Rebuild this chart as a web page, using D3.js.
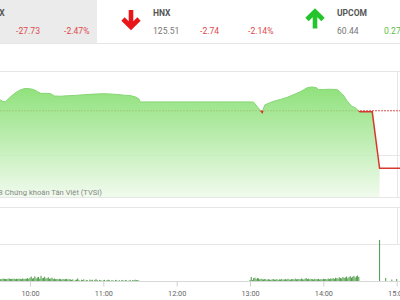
<!DOCTYPE html>
<html>
<head>
<meta charset="utf-8">
<script src="https://cdn.jsdelivr.net/npm/d3@7"></script>
<style>
body { margin: 0; background: #fff; }
svg { display: block; font-family: Roboto, "Noto Sans", sans-serif; }
</style>
</head>
<body>
<svg id="chart"></svg>
<script>
const width = 400;
const height = 300;

// header boxes
const indexNames = ["VNINDEX", "HNX", "UPCOM"];
const indexValues = ["1095.63", "125.51", "60.44"];
const indexChanges = ["-27.73", "-2.74", "0.27"];
const indexPercents = ["-2.47%", "-2.14%", "0.45%"];

// index line (time, points)
const refValue = 1120.9;
const priceTimes = ["09:30", "09:35", "09:38", "09:40", "09:44", "09:48", "09:52", "09:56", "10:00", "10:03",
	"10:06", "10:09", "10:13", "10:17", "10:20", "10:25", "10:30", "10:37", "10:44", "10:52",
	"11:00", "11:05", "11:12", "11:17", "11:22", "11:26", "11:29", "11:30", "13:00", "13:03",
	"13:06", "13:10", "13:12", "13:16", "13:20", "13:25", "13:30", "13:33", "13:37", "13:41",
	"13:44", "13:47", "13:51", "13:54", "13:56", "14:00", "14:05", "14:11", "14:13", "14:15",
	"14:17", "14:19", "14:21", "14:23", "14:27", "14:28", "14:30", "14:40", "14:46", "15:00", "15:03"];
const priceValues = [1126.0, 1126.2, 1125.3, 1125.2, 1127.5, 1129.4, 1130.8, 1131.5, 1131.3, 1131.0,
	1130.0, 1129.1, 1129.2, 1129.0, 1127.9, 1127.8, 1128.0, 1128.2, 1128.5, 1128.8,
	1129.0, 1128.9, 1128.6, 1128.3, 1128.1, 1127.5, 1126.6, 1125.1, 1125.1, 1125.0,
	1122.8, 1120.1, 1123.6, 1124.7, 1125.5, 1126.3, 1127.2, 1127.9, 1128.9, 1129.9,
	1130.9, 1131.9, 1132.2, 1131.9, 1131.0, 1131.0, 1131.1, 1131.0, 1130.2, 1129.1,
	1127.8, 1125.9, 1124.5, 1123.2, 1122.0, 1121.4, 1120.4, 1120.4, 1093.6, 1093.6, 1093.6];
const areaEndTime = "14:46";
const priceGrid = [1080, 1100, 1140];

// volume, one bar per minute
const morningStart = "09:30";
const morningVolume = [1.1, 1.2, 1.0, 1.3, 1.1, 1.2, 1.0, 1.1, 1.3, 1.2, 1.1, 1.0, 1.2, 1.4, 1.1, 1.2, 1.1, 1.3, 1.0, 1.2,
	1.1, 1.3, 1.2, 1.0, 1.4, 1.1, 1.2, 1.3, 1.5, 1.2,
	1.8, 2.4, 1.3, 1.6, 2.6, 1.4, 1.9, 2.2, 1.2, 2.8, 1.5, 1.7, 2.3, 1.3, 1.6, 2.0, 1.2, 1.4, 1.8, 1.1, 1.3,
	1.0, 1.1, 0.9, 1.2, 1.0, 0.8, 1.1, 0.9, 1.0, 1.2, 0.8, 1.0, 0.9,
	0.6, 0.9, 0, 0.5, 0.8, 1.4, 0.6, 0, 0.7, 0.5, 0.9, 0, 0.6, 0.4, 0, 0.8, 0.5, 0.7, 0, 0.6, 1.0, 0.5, 0, 0.6,
	0.5, 0, 0.4, 0.6, 0, 0.5, 0.7, 0.4, 0, 0.5, 0.3, 0, 0.6, 0.4, 0, 0.5, 0, 0.4, 0.6, 0, 0.5, 0.4, 0, 0.3, 0.6, 0,
	0.5, 0.4, 0.7, 0.5, 0.4, 0.3];
const afternoonStart = "13:00";
const afternoonVolume = [0.6, 2.2, 0.5, 1.6, 1.8, 1.0, 1.7, 1.4, 0.9, 1.2,
	1.0, 0.8, 1.1, 0.9, 0.7, 1.0, 0.8, 0.6, 0.9, 1.1, 0.7, 0.8, 1.0, 0.6, 0.9, 0.8, 1.1, 0.7, 0.9, 1.0,
	0.8, 1.2, 0.9, 0.7, 1.0, 1.1, 0.8, 1.3, 0.9, 1.0,
	1.1, 0.9, 1.4, 1.0, 0.8, 1.2, 1.6, 1.0, 1.3, 0.9, 1.1, 1.0, 0.8, 1.2, 0.9, 1.0, 1.1, 0.8, 1.0, 0.9,
	1.2, 1.0, 1.1, 0.9, 1.3, 1.0,
	1.4, 1.2, 1.6, 1.1, 1.8, 1.5, 1.3, 2.0, 1.6, 1.4, 2.2, 1.7, 1.9, 2.4, 1.5, 2.1, 2.6, 1.8, 2.3, 2.8,
	1.9, 2.5, 3.0, 2.2];
const lateTimes = ["14:46", "14:51", "14:56", "15:00"];
const lateVolume = [22.3, 1.6, 0.8, 1.1];
const volumeGrid = [20, 40];

const hourTicks = ["10:00", "11:00", "12:00", "13:00", "14:00", "15:00"];

const toMin = (s) => {
	const [h, m] = s.split(":").map(Number);
	return h * 60 + m;
};

const svg = d3.select("#chart")
	.attr("width", width)
	.attr("height", height);

const x = d3.scaleLinear()
	.domain([toMin("10:00"), toMin("15:00")])
	.range([30, 396.7]);

const yPrice = d3.scaleLinear()
	.domain([1080, 1140])
	.range([197, 70.5]);

const yVol = d3.scaleLinear()
	.domain([0, 40])
	.range([281, 207.3]);

// ---- header ----
svg.append("rect")
	.attr("x", 0).attr("y", 0)
	.attr("width", 97).attr("height", 43)
	.attr("fill", "#ebebeb");

svg.append("line")
	.attr("x1", 0).attr("x2", width)
	.attr("y1", 43.5).attr("y2", 43.5)
	.attr("stroke", "#e6e6e6");

const headerGroup = svg.append("g")
	.selectAll("g")
	.data(indexNames)
	.enter()
	.append("g")
	.attr("transform", (d, i) => `translate(${i * 184 - 31}, 0)`);

headerGroup.append("path")
	.attr("d", (d, i) => {
		const up = !indexChanges[i].startsWith("-");
		return up
			? "M-22,28.5 V12 M-30,19.5 L-22,11.5 L-14,19.5"
			: "M-22,10 V26.5 M-30,19 L-22,27 L-14,19";
	})
	.attr("fill", "none")
	.attr("stroke", (d, i) => indexChanges[i].startsWith("-") ? "#e8151b" : "#23c42c")
	.attr("stroke-width", 4.6)
	.attr("stroke-linejoin", "miter");

headerGroup.append("text")
	.attr("y", 16)
	.attr("font-size", 8.5)
	.attr("font-weight", "bold")
	.attr("fill", "#555")
	.text((d) => d);

headerGroup.append("text")
	.attr("y", 34.3)
	.attr("font-size", 8.6)
	.attr("fill", "#777")
	.text((d, i) => indexValues[i]);

headerGroup.append("text")
	.attr("x", 47)
	.attr("y", 34.3)
	.attr("font-size", 8.6)
	.attr("fill", (d, i) => indexChanges[i].startsWith("-") ? "#dd4a4c" : "#5cbf4a")
	.text((d, i) => indexChanges[i]);

headerGroup.append("text")
	.attr("x", 95)
	.attr("y", 34.3)
	.attr("font-size", 8.6)
	.attr("fill", (d, i) => indexChanges[i].startsWith("-") ? "#dd4a4c" : "#5cbf4a")
	.text((d, i) => indexPercents[i]);

// ---- price panel ----
const priceData = priceTimes.map((t, i) => ({ t: toMin(t), v: priceValues[i] }));
const areaData = priceData.filter((d) => d.t <= toMin(areaEndTime));

const defs = svg.append("defs");
const grad = defs.append("linearGradient")
	.attr("id", "area-grad")
	.attr("gradientUnits", "userSpaceOnUse")
	.attr("x1", 0).attr("x2", 0)
	.attr("y1", yPrice(1132)).attr("y2", yPrice(1080));
grad.append("stop").attr("offset", 0).attr("stop-color", "#7cdc65");
grad.append("stop").attr("offset", 1).attr("stop-color", "#eefaea");

const yRef = yPrice(refValue);
defs.append("clipPath").attr("id", "above-ref")
	.append("rect").attr("x", 0).attr("y", 0).attr("width", width).attr("height", yRef);
defs.append("clipPath").attr("id", "below-ref")
	.append("rect").attr("x", 0).attr("y", yRef).attr("width", width).attr("height", height - yRef);

svg.append("g")
	.selectAll("line")
	.data(priceGrid)
	.enter()
	.append("line")
	.attr("x1", 0).attr("x2", width)
	.attr("y1", (d) => Math.round(yPrice(d)) + 0.5)
	.attr("y2", (d) => Math.round(yPrice(d)) + 0.5)
	.attr("stroke", "#e6e6e6");

svg.append("line")
	.attr("x1", 397.5).attr("x2", 397.5)
	.attr("y1", yPrice(1140)).attr("y2", yPrice(1080))
	.attr("stroke", "#e6e6e6");

svg.append("line")
	.attr("x1", 0).attr("x2", width)
	.attr("y1", yRef).attr("y2", yRef)
	.attr("stroke", "#d9534f")
	.attr("stroke-dasharray", "2,1");

const area = d3.area()
	.x((d) => x(d.t))
	.y0(yPrice(1080))
	.y1((d) => yPrice(d.v));

svg.append("path")
	.datum(areaData)
	.attr("d", area)
	.attr("fill", "url(#area-grad)")
	.attr("fill-opacity", 0.85);

const line = d3.line()
	.x((d) => x(d.t))
	.y((d) => yPrice(d.v));

svg.append("path")
	.datum(priceData)
	.attr("d", line)
	.attr("clip-path", "url(#above-ref)")
	.attr("fill", "none")
	.attr("stroke", "#86d674")
	.attr("stroke-width", 1);

svg.append("path")
	.datum(priceData)
	.attr("d", line)
	.attr("clip-path", "url(#below-ref)")
	.attr("fill", "none")
	.attr("stroke", "#d63a2f")
	.attr("stroke-width", 1.5);

svg.append("text")
	.attr("x", 102)
	.attr("y", 194.5)
	.attr("text-anchor", "end")
	.attr("font-size", 7.6)
	.attr("fill", "#888")
	.text("© 2018 Chứng khoán Tân Việt (TVSI)");

// ---- volume panel ----
svg.append("g")
	.selectAll("line")
	.data(volumeGrid)
	.enter()
	.append("line")
	.attr("x1", 0).attr("x2", width)
	.attr("y1", (d) => Math.round(yVol(d)) + 0.5)
	.attr("y2", (d) => Math.round(yVol(d)) + 0.5)
	.attr("stroke", "#e6e6e6");

svg.append("line")
	.attr("x1", 397.5).attr("x2", 397.5)
	.attr("y1", yVol(40)).attr("y2", yVol(20))
	.attr("stroke", "#e6e6e6");

const volumeData = morningVolume.map((v, i) => ({ t: toMin(morningStart) + i, v }))
	.concat(afternoonVolume.map((v, i) => ({ t: toMin(afternoonStart) + i, v })))
	.concat(lateVolume.map((v, i) => ({ t: toMin(lateTimes[i]), v })))
	.filter((d) => d.v > 0);

svg.append("g")
	.selectAll("rect")
	.data(volumeData)
	.enter()
	.append("rect")
	.attr("x", (d) => x(d.t) - 0.5)
	.attr("width", 1)
	.attr("y", (d) => yVol(d.v))
	.attr("height", (d) => yVol(0) - yVol(d.v))
	.attr("fill", "#4a9a44");

const xAxis = d3.axisBottom(x)
	.tickValues(hourTicks.map(toMin))
	.tickFormat((d, i) => hourTicks[i])
	.tickSize(5)
	.tickSizeOuter(0);

const axisG = svg.append("g")
	.attr("transform", `translate(0, ${Math.round(yVol(0)) + 0.5})`)
	.call(xAxis);

axisG.select(".domain")
	.attr("d", `M0,0H${width}`)
	.attr("stroke", "#d8d8d8");
axisG.selectAll(".tick line").attr("stroke", "#d0d0d0");
axisG.selectAll(".tick text")
	.attr("y", 9)
	.attr("font-family", "Roboto, sans-serif")
	.attr("font-size", 7.3)
	.attr("fill", "#666");
</script>
</body>
</html>
